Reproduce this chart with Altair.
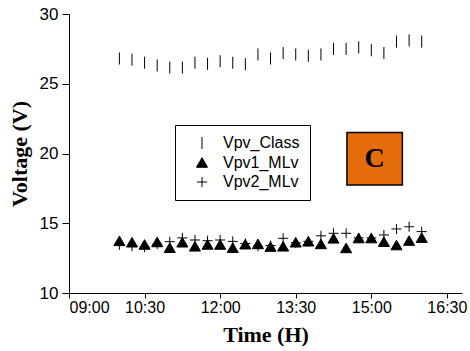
import altair as alt
import pandas as pd

# ---- data ----
times = ["10:00", "10:15", "10:30", "10:45", "11:00", "11:15", "11:30", "11:45",
         "12:00", "12:15", "12:30", "12:45", "13:00", "13:15", "13:30", "13:45",
         "14:00", "14:15", "14:30", "14:45", "15:00", "15:15", "15:30", "15:45", "16:00"]
vpv_class = [26.81, 26.73, 26.51, 26.31, 26.16, 26.16, 26.51, 26.43, 26.61, 26.51,
             26.40, 27.10, 26.81, 27.20, 27.10, 27.01, 27.10, 27.50, 27.50, 27.61,
             27.40, 27.20, 28.02, 28.11, 28.02]
vpv1_mlv = [13.74, 13.64, 13.48, 13.66, 13.25, 13.64, 13.35, 13.48, 13.48, 13.25,
            13.50, 13.52, 13.33, 13.35, 13.64, 13.71, 13.52, 13.92, 13.23, 13.94,
            13.94, 13.68, 13.44, 13.76, 13.97]
vpv2_mlv = [13.45, 13.35, 13.30, 13.50, 13.68, 13.95, 13.80, 13.75, 13.80, 13.70,
            13.55, 13.35, 13.40, 13.92, 13.60, 13.70, 14.10, 14.28, 14.28, 13.95,
            13.95, 14.16, 14.59, 14.75, 14.40]
series_names = ["Vpv_Class", "Vpv1_MLv", "Vpv2_MLv"]
x_tick_labels = ["09:00", "10:30", "12:00", "13:30", "15:00", "16:30"]
x_domain = ["09:00", "16:48"]
y_domain = [10, 30]
box_times = ["14:31", "15:37"]
box_volts = [17.75, 21.5]
box_label = "C"


def to_min(s):
    h, m = s.split(":")
    return int(h) * 60 + int(m)


rows = []
for name, vals in zip(series_names, [vpv_class, vpv1_mlv, vpv2_mlv]):
    for t, v in zip(times, vals):
        rows.append({"t": to_min(t), "v": v, "series": name})
df = pd.DataFrame(rows)

ann = pd.DataFrame({
    "t": [to_min(box_times[0])], "t2": [to_min(box_times[1])],
    "v": [box_volts[0]], "v2": [box_volts[1]],
    "tc": [(to_min(box_times[0]) + to_min(box_times[1])) / 2],
    "vc": [(box_volts[0] + box_volts[1]) / 2],
    "label": [box_label],
})

x0 = to_min(x_tick_labels[0])
step = to_min(x_tick_labels[1]) - x0
label_arr = "[" + ",".join("'%s'" % s for s in x_tick_labels) + "]"
x_label_expr = ("(datum.value - %d) %% %d == 0 ? %s[(datum.value - %d) / %d] : ''"
                % (x0, step, label_arr, x0, step))
x_values = list(range(x0, to_min(x_tick_labels[-1]) + 1, step // 2))
y_values = [10 + 2.5 * i for i in range(9)]

X = alt.X("t:Q", scale=alt.Scale(domain=[to_min(x_domain[0]), to_min(x_domain[1])], nice=False, zero=False),
          axis=alt.Axis(title="Time (H)", values=x_values, labelExpr=x_label_expr,
                        tickSize={"condition": {"test": "(datum.value - %d) %% %d == 0" % (x0, step), "value": 5}, "value": 3},
                        labelFontSize=16, labelPadding=1, titlePadding=9, grid=False))
Y = alt.Y("v:Q", scale=alt.Scale(domain=y_domain, nice=False, zero=False),
          axis=alt.Axis(title="Voltage (V)", values=y_values,
                        labelExpr="datum.value % 5 == 0 ? datum.label : ''",
                        tickSize={"condition": {"test": "datum.value % 5 == 0", "value": 7}, "value": 3},
                        labelFontSize=17, labelPadding=4, titlePadding=8, grid=False))

line_path = "M0,-1L0,1"
plus_path = "M-1,0L1,0M0,-1L0,1"

legend = alt.Legend(title=None, orient="none", legendX=106, legendY=111,
                    labelFont="Liberation Sans", labelFontSize=16,
                    labelColor="black", padding=10, rowPadding=3.5,
                    symbolOffset=9, labelOffset=13,
                    symbolStrokeWidth=1, strokeColor="black",
                    fillColor="white")

points = alt.Chart(df).mark_point(filled=False, strokeWidth=1, opacity=1).encode(
    x=X, y=Y,
    color=alt.value("black"),
    shape=alt.Shape("series:N", scale=alt.Scale(domain=series_names,
                                                range=[line_path, "triangle-up", plus_path]),
                    legend=legend),
    size=alt.Size("series:N", scale=alt.Scale(domain=series_names, range=[144, 100, 64]),
                  legend=legend),
    fill=alt.Fill("series:N", scale=alt.Scale(domain=series_names,
                                              range=["transparent", "black", "transparent"]),
                  legend=legend),
)

box = alt.Chart(ann).mark_rect(fill="#E46C0A", stroke="black", strokeWidth=1.5).encode(
    x=X, x2="t2:Q", y=Y, y2="v2:Q")
text = alt.Chart(ann).mark_text(font="Liberation Serif", fontSize=28, fontWeight="bold",
                                color="black", baseline="middle", align="center").encode(
    x=alt.X("tc:Q"), y=alt.Y("vc:Q"), text="label:N")

chart = alt.layer(points, box, text).properties(
    width=393, height=279, autosize="none",
    padding={"left": 69, "top": 14, "right": 8, "bottom": 58},
).configure_view(stroke=None).configure_axis(
    domainColor="black", tickColor="black", labelColor="black",
    labelFont="Liberation Sans", titleFont="Liberation Serif", titleFontSize=22,
    titleFontWeight="bold", titleColor="black", domainWidth=1, tickWidth=1,
)

chart.save("out.html", embed_options={"renderer": "svg", "actions": False})
